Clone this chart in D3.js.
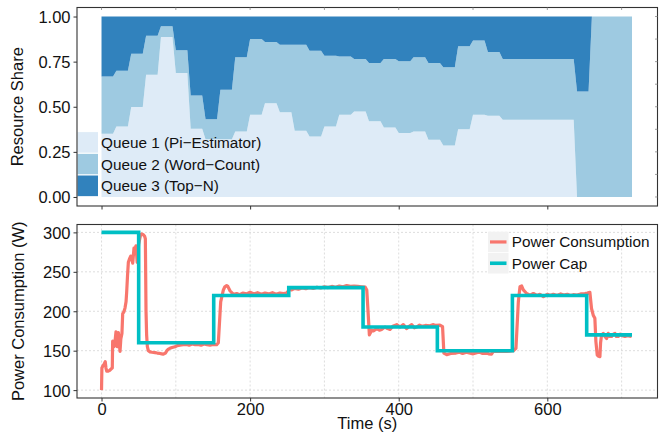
<!DOCTYPE html>
<html>
<head>
<meta charset="utf-8">
<script src="https://cdn.jsdelivr.net/npm/d3@7"></script>
<style>
  body { margin: 0; background: white; }
  text { font-family: "Liberation Sans", Arial, sans-serif; fill: #111; }
</style>
</head>
<body>
<div class="plot"></div>
<script>
// Queue shares, one sample every 20 s (each sample holds, then ramps to the next)
var queueTimes = [0, 20, 40, 60, 80, 100, 120, 140, 160, 180, 200, 220, 240, 260, 280, 300, 320,
    340, 360, 380, 400, 420, 440, 460, 480, 500, 520, 540, 560, 580, 600, 620, 640, 660];
var queue1 = [0.35, 0.391, 0.498, 0.678, 0.887, 0.687, 0.378, 0.32, 0.32, 0.363, 0.456, 0.52, 0.47, 0.367,
    0.335, 0.391, 0.456, 0.474, 0.419, 0.385, 0.354, 0.363, 0.317, 0.285, 0.376, 0.456, 0.45,
    0.428, 0.428, 0.428, 0.428, 0.428, 0, 0];
var queue2 = [0.318, 0.309, 0.296, 0.216, 0.059, 0.126, 0.185, 0.111, 0.274, 0.411, 0.42, 0.339, 0.374, 0.477,
    0.476, 0.392, 0.322, 0.291, 0.324, 0.38, 0.398, 0.411, 0.426, 0.434, 0.459, 0.411, 0.354,
    0.337, 0.337, 0.337, 0.337, 0.337, 0.585, 1];
var queue3 = [0.332, 0.30, 0.206, 0.106, 0.054, 0.187, 0.437, 0.569, 0.406, 0.226, 0.124, 0.141, 0.156, 0.156,
    0.189, 0.217, 0.222, 0.235, 0.257, 0.235, 0.248, 0.226, 0.257, 0.281, 0.165, 0.133, 0.196,
    0.235, 0.235, 0.235, 0.235, 0.235, 0.415, 0];
var queueEnd = 714;
var queueNames = ["Queue 1 (Pi\u2212Estimator)", "Queue 2 (Word\u2212Count)", "Queue 3 (Top\u2212N)"];

// Power cap steps
var capTimes = [0, 50, 151, 252, 352, 452, 553, 653];
var capValues = [300, 160, 220, 230, 180, 150, 220, 170];
var capEnd = 714;

// Measured power consumption
var powerTimes = [0, 0.5, 2, 3.5, 5, 6, 7, 9, 11, 13, 14.5, 15, 16.8, 18, 19.5, 21, 22.7, 24.9, 26, 27.5,
    28.5, 30, 31.6, 33, 33.9, 35, 36.1, 37.5, 39.3, 41, 42, 43.7, 45, 46.4, 48, 49, 50, 51.5, 52.7, 54,
    56.3, 58, 59, 59.9, 60.7, 61.7, 63, 65.3, 68, 72, 75, 78.7, 81, 83.2, 86, 88, 90, 92, 95, 98.9,
    102, 105.6, 110, 114.6, 118, 122, 126, 130, 134, 138, 142, 146, 150, 155, 157.2, 160.4, 164, 166,
    168.4, 170, 172.9, 177.4, 182, 186, 190, 195, 200, 205, 210, 215, 220, 225, 230, 235, 240, 245,
    249, 253.7, 256, 260, 265, 270, 275, 280, 285, 290, 295, 300, 305, 310, 315, 320, 325, 330, 335,
    340, 345, 350, 355, 357, 359, 360.5, 363.6, 365.9, 370.4, 374, 377, 381.6, 385, 388.3, 392, 397.3,
    401.8, 406.2, 410.7, 414, 417.4, 421, 424.2, 428, 430.9, 436, 441.9, 446, 450, 455.4, 459, 460.8,
    464.6, 470, 477.1, 482, 486, 491.2, 495, 500.2, 505, 509.2, 513, 518.2, 521, 524.9, 527.2, 535,
    545.2, 554.2, 557.8, 561, 563.2, 565.5, 567.7, 572.2, 576.7, 581.2, 586, 590, 594.7, 600, 604,
    608.1, 613, 618, 622, 627, 631, 635, 640, 645, 650.5, 654, 657.3, 659.5, 661.8, 664, 665.4, 667.2,
    669, 670.8, 671.7, 673, 675.3, 677.5, 679.8, 682, 684, 686.5, 689, 691, 693, 695.5, 698, 701,
    704.5, 708, 711, 713.5];
var powerValues = [100, 128, 131, 133, 136, 128, 124, 124, 125, 127, 128, 162, 155, 160, 174, 155, 173, 149, 165, 172,
    197, 199, 204, 212, 225, 245, 262, 266, 270, 265, 261, 280, 279, 283, 262, 275, 285, 292, 297, 298,
    297, 295, 292, 200, 170, 155, 150, 148.5, 148, 147.5, 147, 146.5, 146, 145.5, 147, 150, 152, 153, 154, 155,
    156.5, 157, 157.5, 158, 157, 158.5, 157.5, 158, 157, 158.5, 157.5, 157, 158, 157.5, 160, 212, 227, 231,
    232.5, 231.5, 226, 221.5, 222.5, 221, 223, 222, 224, 222, 223.5, 221.5, 223, 222, 223.5, 221.5, 223, 222.5,
    223, 228, 227, 229, 228, 229.5, 228.5, 230, 229, 230.5, 229.5, 231, 230, 231.5, 230.5, 232, 231, 232.5, 231.5,
    232, 231.5, 231, 230.5, 227, 195, 170, 176, 175, 178, 176, 177, 180, 178, 177, 181, 183,
    180, 183, 178, 181, 183, 179, 180, 182.5, 181, 182, 181.5, 183, 182, 182.5, 180.5, 147,
    145, 146.5, 147, 148, 146.5, 148, 147, 146, 147.5, 148, 146.5, 147, 146, 145.5, 149, 149,
    149, 150, 153, 212, 231, 232, 227, 222.5, 220.5, 222.5, 220, 221.5, 218.5, 221.5, 220,
    221.5, 220, 222, 220.5, 221.5, 220, 221, 220.5, 222, 222.5, 223, 224, 203.5, 195, 191, 161.5, 144.5,
    143, 142.5, 160, 170, 172, 168, 165.5, 172, 168, 168, 171, 172, 168, 168, 171, 169,
    168, 169, 168.5, 168];

var xTicks = [0, 200, 400, 600];
var shareTicks = [0, 0.25, 0.5, 0.75, 1];
var powerTicks = [100, 150, 200, 250, 300];

var width = 663, height = 433;
var left = 77, right = 657.5;
var top1 = 7.5, bottom1 = 206, top2 = 224.5, bottom2 = 398;
var fills = ["#deebf7", "#9ecae1", "#3182bd"];
var consColor = "#F8766D", capColor = "#00BFC4";

var svg = d3.select(".plot").append("svg")
    .attr("width", width)
    .attr("height", height);

svg.append("rect").attr("width", "100%").attr("height", "100%").attr("fill", "white");

var xScale = d3.scaleLinear().domain([-33, 748.3]).range([left, right]);
var yShare = d3.scaleLinear().domain([-0.05, 1.05]).range([bottom1, top1]);
var yPower = d3.scaleLinear().domain([90, 310]).range([bottom2, top2]);

// ---------- top panel: stacked shares ----------
var rows = [];
queueTimes.forEach(function (t, k) {
    var hold = k === queueTimes.length - 1 ? queueEnd : t + 15.5;
    var r = {q1: queue1[k], q2: queue2[k], q3: queue3[k]};
    rows.push(Object.assign({t: t}, r));
    rows.push(Object.assign({t: hold}, r));
});
var series = d3.stack().keys(["q1", "q2", "q3"])(rows);
var area = d3.area()
    .x(d => xScale(d.data.t))
    .y0(d => yShare(d[0]))
    .y1(d => yShare(d[1]));

svg.append("g").selectAll("path")
    .data(series)
    .enter().append("path")
    .attr("d", area)
    .attr("fill", (d, i) => fills[i]);

// legend for queues (bottom-left inside panel)
var keyH = 21.7;
var qLegend = svg.append("g").attr("transform", "translate(77," + (bottom1 - 9.3 - 3 * keyH) + ")");
queueNames.forEach(function (name, i) {
    qLegend.append("rect")
        .attr("x", 0).attr("y", i * keyH)
        .attr("width", 21.5).attr("height", keyH)
        .attr("fill", fills[i])
        .attr("stroke", "white").attr("stroke-width", 1);
    qLegend.append("text")
        .attr("x", 24).attr("y", i * keyH + keyH / 2 + 5.4)
        .style("font-size", "15.3px")
        .text(name);
});

svg.append("rect")
    .attr("x", left).attr("y", top1)
    .attr("width", right - left).attr("height", bottom1 - top1)
    .attr("fill", "none").attr("stroke", "#333").attr("stroke-width", 1.1);

// top panel axes
svg.append("g")
    .attr("transform", "translate(" + left + ",0)")
    .call(d3.axisLeft(yShare).tickValues(shareTicks).tickFormat(d3.format(".2f")).tickSize(3.5).tickPadding(3))
    .call(g => g.select(".domain").remove())
    .call(g => g.selectAll("line").attr("stroke", "#333"))
    .call(g => g.selectAll("text").style("font-size", "16.5px").attr("fill", "#111").attr("dy", "0.36em"));

svg.append("g")
    .attr("transform", "translate(0," + bottom1 + ")")
    .call(d3.axisBottom(xScale).tickValues(xTicks).tickSize(3.5).tickFormat(""))
    .call(g => g.select(".domain").remove())
    .call(g => g.selectAll("line").attr("stroke", "#333"));

// small inner ticks on top / right edges
svg.append("g").selectAll("line")
    .data(d3.range(0, 701, 100))
    .enter().append("line")
    .attr("x1", d => xScale(d)).attr("x2", d => xScale(d))
    .attr("y1", top1).attr("y2", top1 + 2.5)
    .attr("stroke", "#888").attr("stroke-width", 0.8);
svg.append("g").selectAll("line")
    .data(d3.range(0, 1.01, 0.125))
    .enter().append("line")
    .attr("x1", right - 2.5).attr("x2", right)
    .attr("y1", d => yShare(d)).attr("y2", d => yShare(d))
    .attr("stroke", "#888").attr("stroke-width", 0.8);

svg.append("text")
    .attr("transform", "translate(22.5," + ((top1 + bottom1) / 2) + ") rotate(-90)")
    .attr("text-anchor", "middle")
    .style("font-size", "16.5px")
    .text("Resource Share");

// ---------- bottom panel: power ----------
var grid = svg.append("g")
    .attr("stroke", "#cfcfcf").attr("stroke-width", 0.7).attr("stroke-dasharray", "2,2");
grid.selectAll(".vg")
    .data(d3.range(0, 701, 100))
    .enter().append("line")
    .attr("x1", d => xScale(d)).attr("x2", d => xScale(d))
    .attr("y1", top2).attr("y2", bottom2);
grid.selectAll(".hg")
    .data(powerTicks)
    .enter().append("line")
    .attr("x1", left).attr("x2", right)
    .attr("y1", d => yPower(d)).attr("y2", d => yPower(d));

var powerData = powerTimes.map((t, i) => ({t: t, v: powerValues[i]}));
var capData = capTimes.map((t, i) => ({t: t, v: capValues[i]}));
capData.push({t: capEnd, v: capValues[capValues.length - 1]});

var line = d3.line().x(d => xScale(d.t)).y(d => yPower(d.v));

svg.append("path")
    .datum(powerData)
    .attr("d", line)
    .attr("fill", "none")
    .attr("stroke", consColor)
    .attr("stroke-width", 3.2)
    .attr("stroke-linejoin", "round");

svg.append("path")
    .datum(capData)
    .attr("d", line.curve(d3.curveStepAfter))
    .attr("fill", "none")
    .attr("stroke", capColor)
    .attr("stroke-width", 3.6);

svg.append("rect")
    .attr("x", left).attr("y", top2)
    .attr("width", right - left).attr("height", bottom2 - top2)
    .attr("fill", "none").attr("stroke", "#333").attr("stroke-width", 1.1);

svg.append("g")
    .attr("transform", "translate(" + left + ",0)")
    .call(d3.axisLeft(yPower).tickValues(powerTicks).tickSize(3.5).tickPadding(3))
    .call(g => g.select(".domain").remove())
    .call(g => g.selectAll("line").attr("stroke", "#333"))
    .call(g => g.selectAll("text").style("font-size", "16.5px").attr("fill", "#111").attr("dy", "0.36em"));

svg.append("g")
    .attr("transform", "translate(0," + bottom2 + ")")
    .call(d3.axisBottom(xScale).tickValues(xTicks).tickSize(3.5).tickPadding(2))
    .call(g => g.select(".domain").remove())
    .call(g => g.selectAll("line").attr("stroke", "#333"))
    .call(g => g.selectAll("text").style("font-size", "16.5px").attr("fill", "#111"));

svg.append("text")
    .attr("x", (left + right) / 2).attr("y", 429)
    .attr("text-anchor", "middle")
    .style("font-size", "16.5px")
    .text("Time (s)");

svg.append("text")
    .attr("transform", "translate(23.5," + ((top2 + bottom2) / 2) + ") rotate(-90)")
    .attr("text-anchor", "middle")
    .style("font-size", "16.5px")
    .text("Power Consumption (W)");

// power legend
var pLegend = svg.append("g").attr("transform", "translate(488,231.7)");
[["Power Consumption", consColor, 3.2], ["Power Cap", capColor, 3.6]].forEach(function (d, i) {
    pLegend.append("rect")
        .attr("x", 0).attr("y", i * 21.3)
        .attr("width", 20.5).attr("height", 20.5)
        .attr("fill", "#f2f2f2");
    pLegend.append("line")
        .attr("x1", 2).attr("x2", 18.5)
        .attr("y1", i * 21.3 + 10.25).attr("y2", i * 21.3 + 10.25)
        .attr("stroke", d[1]).attr("stroke-width", d[2]);
    pLegend.append("text")
        .attr("x", 23.7).attr("y", i * 21.3 + 10.25 + 5.4)
        .style("font-size", "15.3px")
        .text(d[0]);
});
</script>
</body>
</html>
